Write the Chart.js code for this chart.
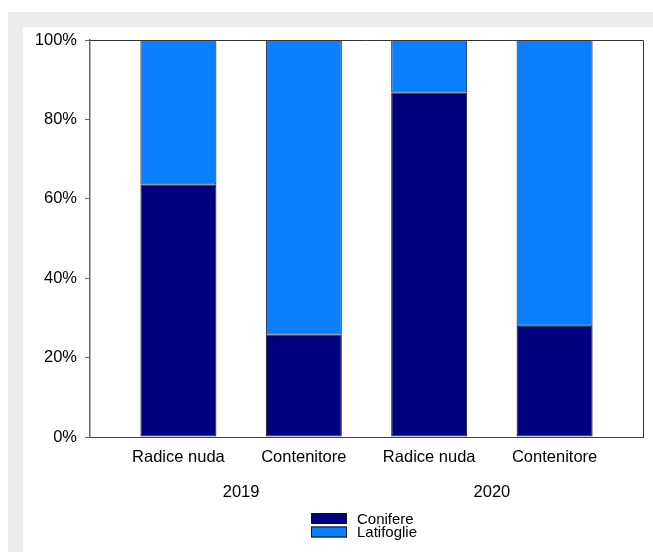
<!DOCTYPE html>
<html>
<head>
<meta charset="utf-8">
<script src="https://cdn.jsdelivr.net/npm/chart.js@4/dist/chart.umd.min.js"></script>
<style>
  html, body { margin: 0; padding: 0; background: #ffffff; }
  #frame { position: absolute; left: 8px; top: 12px; width: 645px; height: 540px; background: #ececec; }
  #c { position: absolute; left: 23px; top: 27px; background: #ffffff; }
</style>
</head>
<body>
<div id="frame"></div>
<canvas id="c" width="630" height="525"></canvas>
<script>
const categories = ["Radice nuda", "Contenitore", "Radice nuda", "Contenitore"];
const years = ["2019", "2020"];
const conifere = [63.6, 25.8, 86.8, 28.0];
const latifoglie = [36.4, 74.2, 13.2, 72.0];
const yTicks = [0, 20, 40, 60, 80, 100];

const FONT = "Arial, 'Liberation Sans', sans-serif";

const toPoints = arr => arr.map((v, i) => ({ x: i, y: v }));

const framePlugin = {
  id: 'frame',
  afterDatasetsDraw(chart) {
    const { ctx, chartArea: a } = chart;
    ctx.save();
    ctx.strokeStyle = '#333';
    ctx.lineWidth = 1;
    ctx.beginPath();
    ctx.moveTo(a.left, a.top + 0.5);
    ctx.lineTo(a.right + 0.5, a.top + 0.5);
    ctx.lineTo(a.right + 0.5, a.bottom);
    ctx.stroke();
    ctx.restore();
  },
  afterDraw(chart) {
    const { ctx, chartArea: a } = chart;
    const cx = (a.left + a.right) / 2;
    const left = Math.round(cx - 56);
    ctx.save();
    ctx.font = "15px " + FONT;
    ctx.textBaseline = 'middle';
    ctx.textAlign = 'left';
    chart.data.datasets.forEach((ds, i) => {
      const top = 486 + i * 13.5;
      ctx.fillStyle = ds.backgroundColor;
      ctx.fillRect(left, top, 36, 11);
      ctx.strokeStyle = '#111';
      ctx.lineWidth = 1;
      ctx.strokeRect(left + 0.5, top + 0.5, 35, 10);
      ctx.fillStyle = '#000';
      ctx.fillText(ds.label, left + 46, top + 6.5);
    });
    ctx.restore();
  }
};

new Chart(document.getElementById('c'), {
  type: 'bar',
  data: {
    datasets: [
      { label: 'Conifere', data: toPoints(conifere), backgroundColor: '#000080', borderColor: '#111', borderWidth: 1, borderSkipped: false },
      { label: 'Latifoglie', data: toPoints(latifoglie), backgroundColor: '#0a7fff', borderColor: '#111', borderWidth: 1, borderSkipped: false }
    ]
  },
  options: {
    responsive: false,
    devicePixelRatio: 1,
    animation: false,
    datasets: { bar: { categoryPercentage: 1, barPercentage: 0.606 } },
    layout: { padding: { left: 0, top: 13, right: 10, bottom: 44 } },
    plugins: { legend: { display: false }, tooltip: { enabled: false } },
    scales: {
      x: {
        type: 'linear', stacked: true, min: -0.705, max: 3.705, weight: 0, offset: false,
        afterBuildTicks: s => { s.ticks = categories.map((c, i) => ({ value: i })); },
        afterFit: s => { s.height = 36; },
        grid: { display: false, drawTicks: false, offset: false },
        border: { display: true, color: '#444', width: 1 },
        ticks: {
          autoSkip: false, maxRotation: 0, padding: 11, color: '#000',
          font: { family: FONT, size: 16.5 },
          callback: v => categories[Math.round(v)]
        }
      },
      x2: {
        type: 'linear', position: 'bottom', min: -0.705, max: 3.705, weight: 1, offset: false,
        afterBuildTicks: s => { s.ticks = years.map((y, i) => ({ value: 0.5 + 2 * i })); },
        afterFit: s => { s.height = 35; },
        grid: { display: false, drawTicks: false, offset: false },
        border: { display: false },
        ticks: {
          autoSkip: false, maxRotation: 0, padding: 10, color: '#000',
          font: { family: FONT, size: 16.5 },
          callback: v => years[Math.round((v - 0.5) / 2)]
        }
      },
      y: {
        stacked: true, min: 0, max: 100,
        afterBuildTicks: s => { s.ticks = yTicks.map(v => ({ value: v })); },
        afterFit: s => { s.width = 67; s.paddingTop = 0; s.paddingBottom = 0; },
        grid: { drawOnChartArea: false, drawTicks: true, tickLength: 5, color: '#666' },
        border: { display: true, color: '#666', width: 1.5 },
        ticks: {
          padding: 8, color: '#000',
          font: { family: FONT, size: 16.5 },
          callback: v => v + '%'
        }
      }
    }
  },
  plugins: [framePlugin]
});
</script>
</body>
</html>
